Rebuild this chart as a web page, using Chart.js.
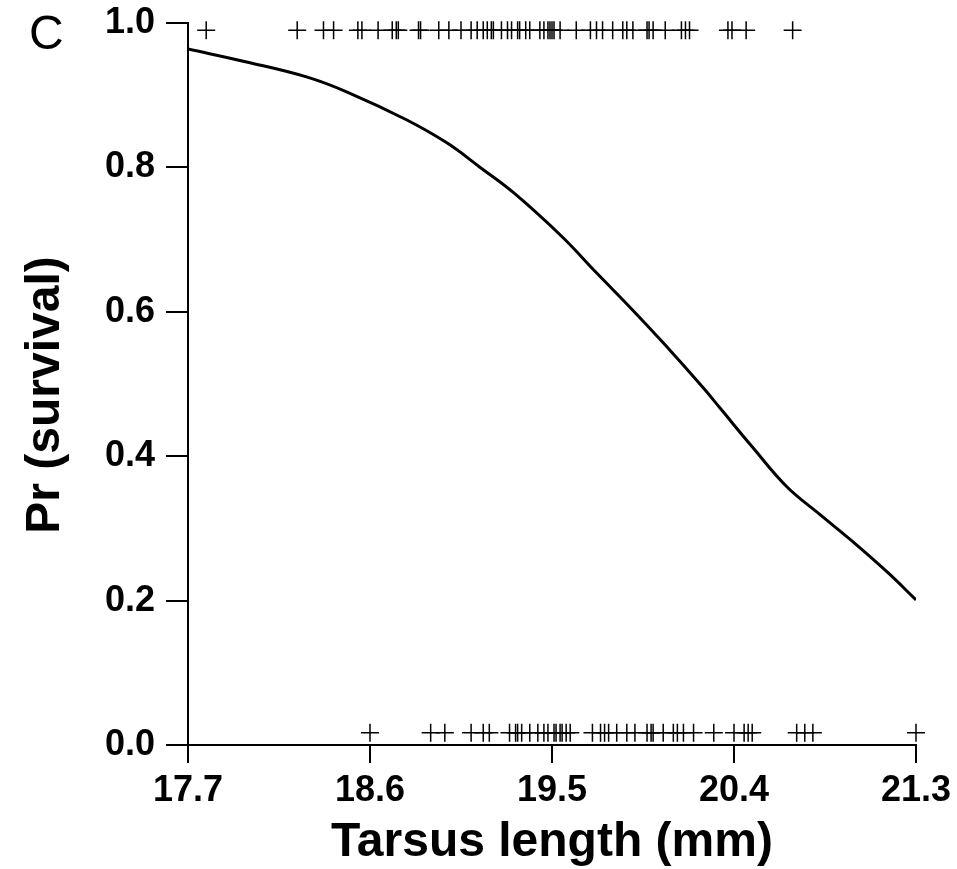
<!DOCTYPE html>
<html>
<head>
<meta charset="utf-8">
<script src="https://cdn.jsdelivr.net/npm/chart.js@4.4.1/dist/chart.umd.min.js"></script>
<style>
  html, body { margin: 0; padding: 0; background: #ffffff; }
  #wrap { width: 957px; height: 869px; }
</style>
</head>
<body>
<div id="wrap"><canvas id="c" width="957" height="869"></canvas></div>
<script>
// ---- data ----
const panelLabel = "C";
const xTickValues = [17.7, 18.6, 19.5, 20.4, 21.3];
const yTickValues = [0.0, 0.2, 0.4, 0.6, 0.8, 1.0];

// fitted survival curve
const curveX = [17.70, 17.99, 18.29, 18.49, 18.78, 18.98, 19.14, 19.31, 19.55, 19.72, 19.89, 20.05, 20.25, 20.33, 20.49, 20.66, 20.83, 20.99, 21.16, 21.30];
const curveY = [0.964, 0.946, 0.925, 0.904, 0.866, 0.834, 0.801, 0.765, 0.704, 0.654, 0.605, 0.557, 0.494, 0.467, 0.413, 0.358, 0.318, 0.281, 0.239, 0.201];

// survivors (plotted along the top)
const survivedX = [17.79, 18.24, 18.37, 18.42, 18.54, 18.56, 18.64, 18.71, 18.73, 18.74, 18.84, 18.85,
  18.94, 18.99, 19.05, 19.10, 19.13, 19.16, 19.18, 19.20, 19.21, 19.25, 19.28, 19.30, 19.33, 19.34,
  19.37, 19.39, 19.44, 19.46, 19.48, 19.49, 19.50, 19.51, 19.54, 19.62, 19.69, 19.72, 19.75, 19.80,
  19.85, 19.87, 19.90, 19.97, 19.98, 20.00, 20.06, 20.14, 20.16, 20.18, 20.37, 20.39, 20.46, 20.69];
const survivedRowY = 0.990;

// non-survivors (plotted along the bottom)
const diedX = [18.60, 18.90, 18.97, 19.10, 19.16, 19.19, 19.29, 19.32, 19.33, 19.35, 19.39, 19.43,
  19.46, 19.48, 19.51, 19.52, 19.54, 19.55, 19.57, 19.59, 19.70, 19.74, 19.76, 19.78, 19.82, 19.87,
  19.91, 19.97, 19.99, 20.00, 20.05, 20.10, 20.12, 20.15, 20.20, 20.30, 20.40, 20.45, 20.47, 20.49,
  20.71, 20.75, 20.79, 21.30];
const diedRowY = 0.017;

const xTitle = "Tarsus length (mm)";
const yTitle = "Pr (survival)";

// ---- chart ----
const FONT = "'Liberation Sans', Arial, Helvetica, sans-serif";

const labelsPlugin = {
  id: 'extraLabels',
  afterDraw(chart) {
    const ctx = chart.ctx;
    ctx.save();
    ctx.fillStyle = '#000';
    ctx.font = "48px " + FONT;
    ctx.textAlign = 'left';
    ctx.textBaseline = 'alphabetic';
    ctx.fillText(panelLabel, 29, 49);
    // y-axis title, rotated
    ctx.translate(46, 395);
    ctx.rotate(-Math.PI / 2);
    ctx.font = "bold 48px " + FONT;
    ctx.textAlign = 'center';
    ctx.textBaseline = 'middle';
    ctx.fillText(yTitle, 0, 0);
    ctx.restore();
  }
};

new Chart(document.getElementById('c'), {
  type: 'scatter',
  data: {
    datasets: [
      {
        label: 'fit',
        data: curveX.map((x, i) => ({ x: x, y: curveY[i] })),
        showLine: true,
        borderColor: '#000',
        borderWidth: 3,
        pointRadius: 0,
        tension: 0.4,
        fill: false
      },
      {
        label: 'survived',
        data: survivedX.map(x => ({ x: x, y: survivedRowY })),
        pointStyle: 'cross',
        pointRadius: 9,
        borderColor: '#000',
        borderWidth: 1.5,
        clip: false
      },
      {
        label: 'died',
        data: diedX.map(x => ({ x: x, y: diedRowY })),
        pointStyle: 'cross',
        pointRadius: 9,
        borderColor: '#000',
        borderWidth: 1.5,
        clip: false
      }
    ]
  },
  options: {
    responsive: false,
    devicePixelRatio: 1,
    animation: false,
    layout: { padding: { top: 23, right: 41, left: 0, bottom: 0 } },
    plugins: {
      legend: { display: false },
      tooltip: { enabled: false }
    },
    scales: {
      x: {
        type: 'linear',
        min: 17.7,
        max: 21.3,
        afterBuildTicks: (s) => { s.ticks = xTickValues.map(v => ({ value: v })); },
        afterFit: (s) => { s.height = 124; s.paddingLeft = 0; s.paddingRight = 0; },
        ticks: {
          color: '#000',
          font: { family: FONT, size: 36, weight: 'bold' },
          padding: 6,
          maxRotation: 0,
          autoSkip: false,
          callback: (v) => Number(v).toFixed(1)
        },
        grid: { display: true, drawOnChartArea: false, drawTicks: true, tickLength: 18, color: '#000', lineWidth: 2 },
        border: { display: true, color: '#000', width: 2 },
        title: {
          display: true,
          text: xTitle,
          color: '#000',
          font: { family: FONT, size: 48, weight: 'bold', lineHeight: 1.1 },
          padding: { top: 0, bottom: 0 }
        }
      },
      y: {
        type: 'linear',
        min: 0,
        max: 1,
        afterBuildTicks: (s) => { s.ticks = yTickValues.map(v => ({ value: v })); },
        afterFit: (s) => { s.width = 188; s.paddingTop = 0; s.paddingBottom = 0; },
        ticks: {
          color: '#000',
          font: { family: FONT, size: 36, weight: 'bold' },
          padding: 11,
          autoSkip: false,
          callback: (v) => Number(v).toFixed(1)
        },
        grid: { display: true, drawOnChartArea: false, drawTicks: true, tickLength: 22, color: '#000', lineWidth: 2 },
        border: { display: true, color: '#000', width: 2 },
        title: { display: false }
      }
    }
  },
  plugins: [labelsPlugin]
});
</script>
</body>
</html>
